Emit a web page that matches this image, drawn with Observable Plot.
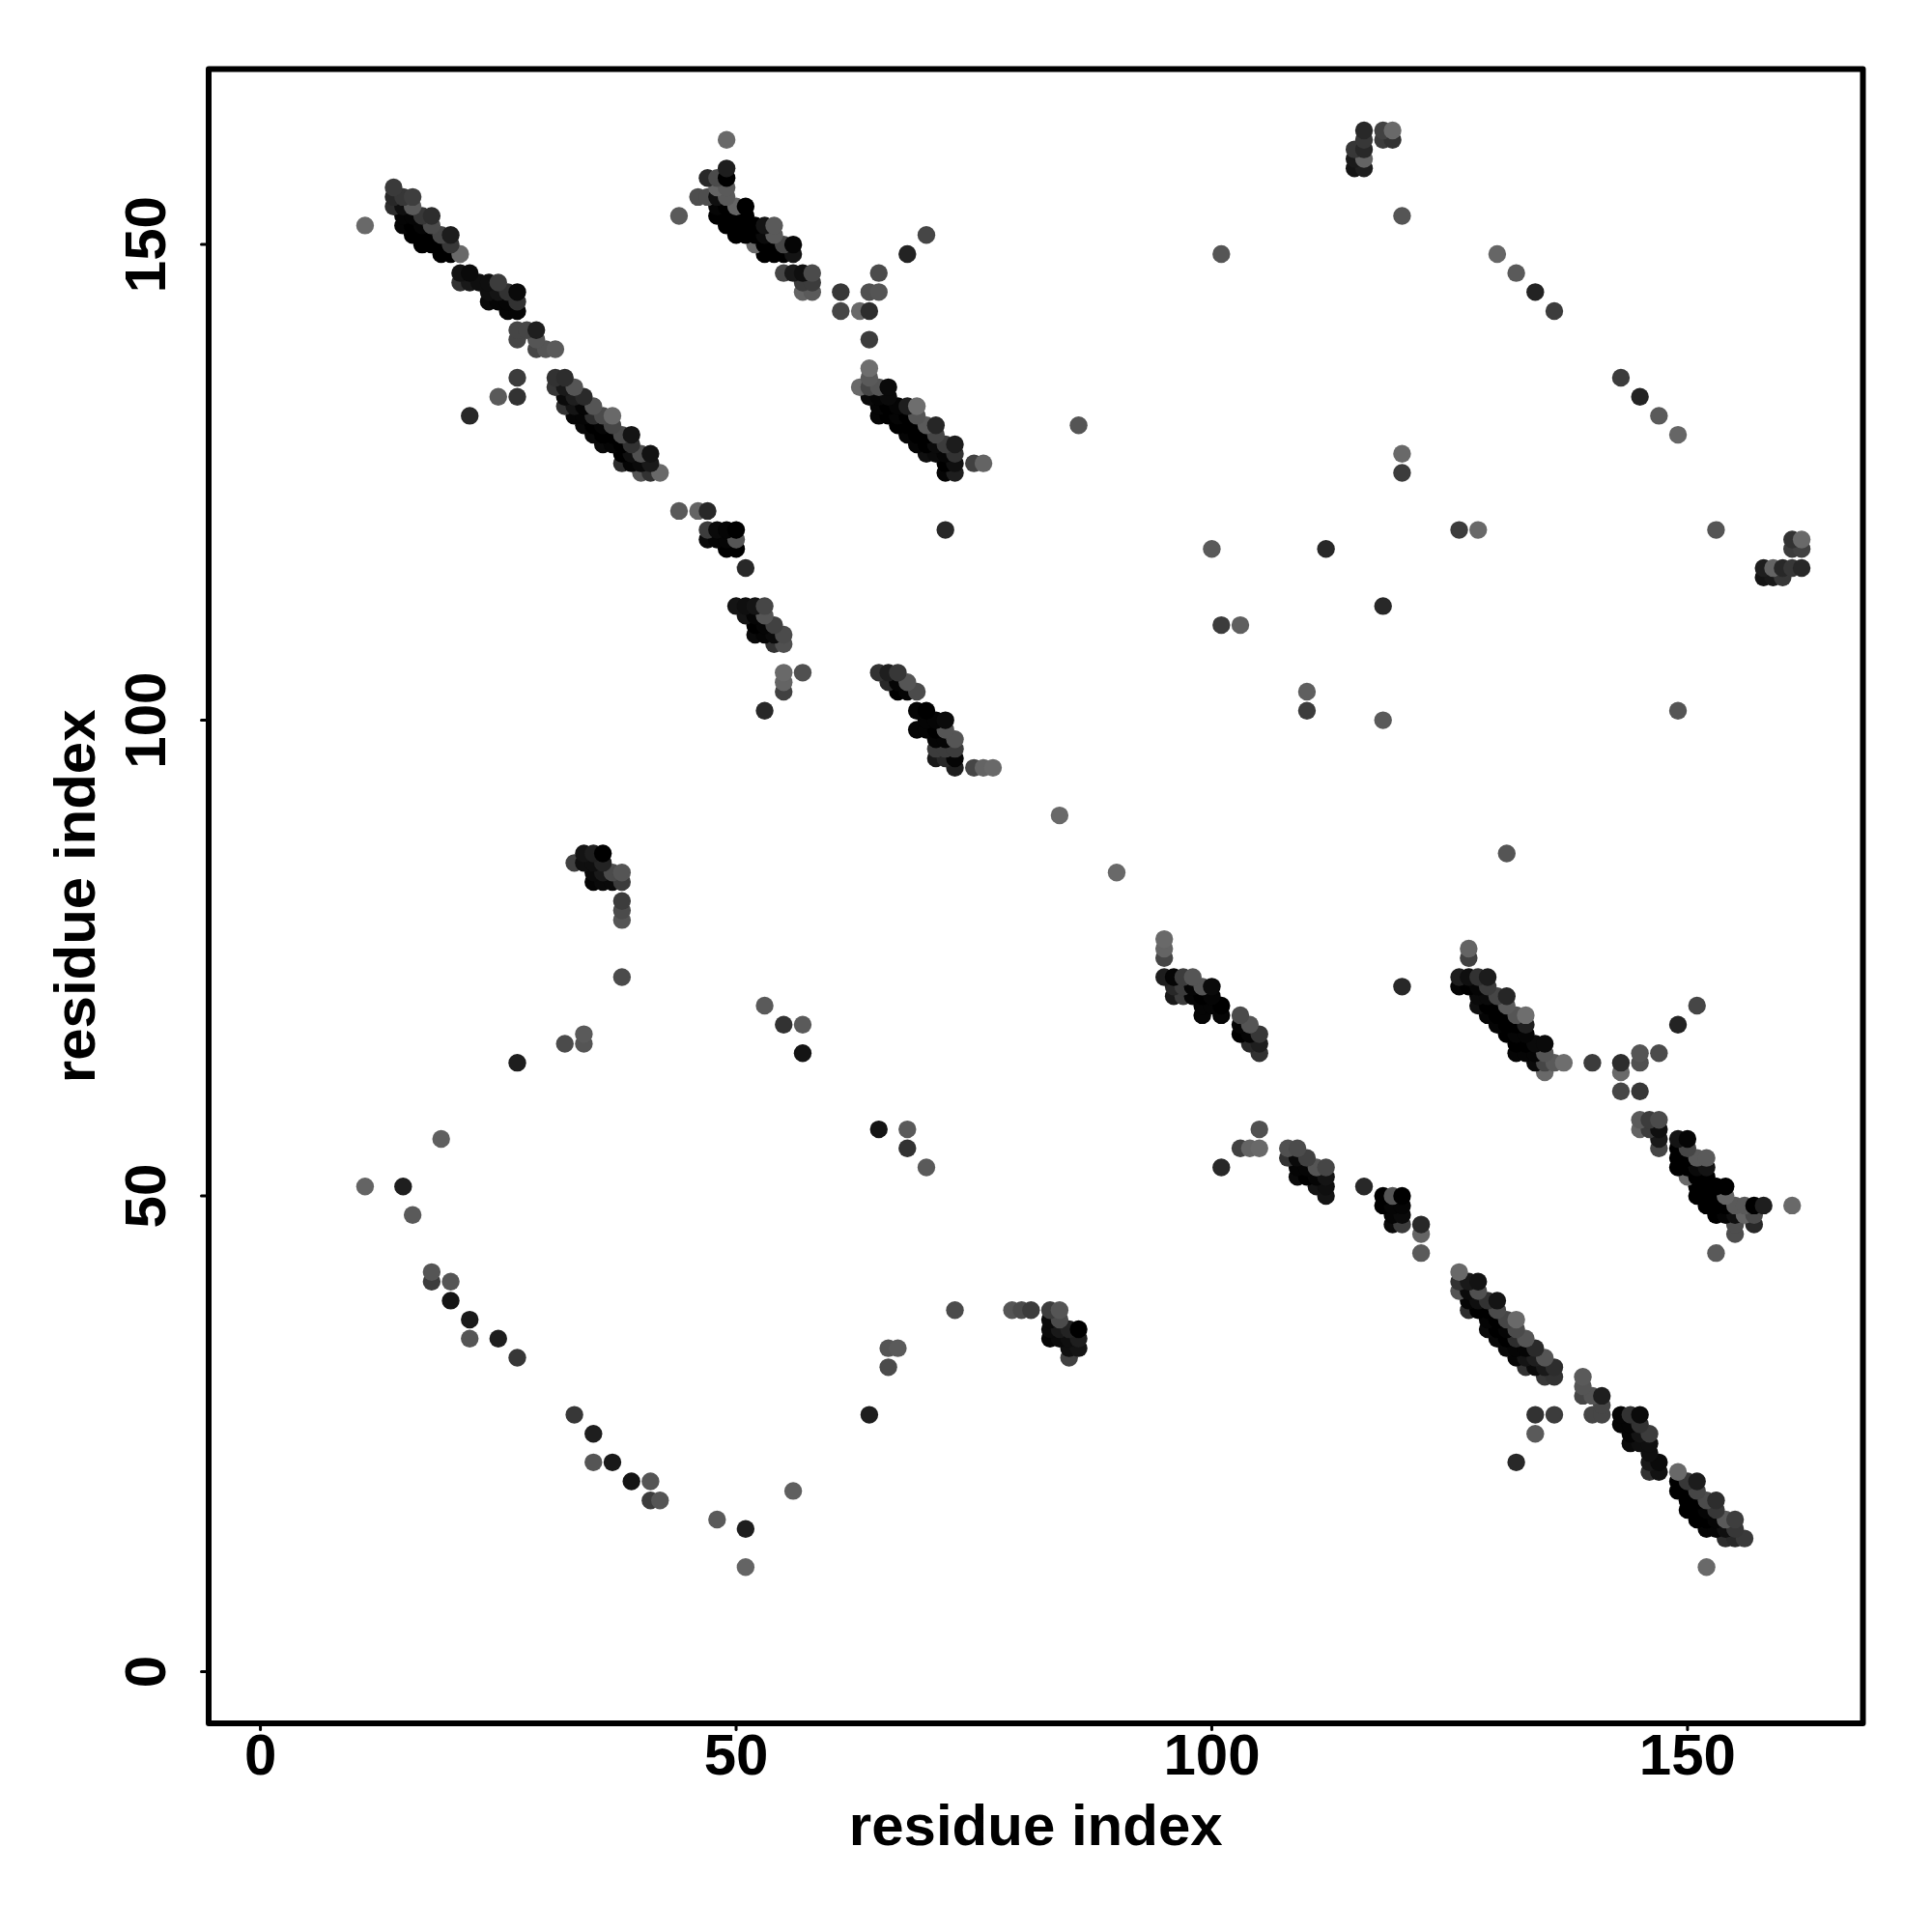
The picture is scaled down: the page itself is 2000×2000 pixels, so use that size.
<!DOCTYPE html>
<html><head><meta charset="utf-8">
<script src="https://cdn.jsdelivr.net/npm/d3@7"></script>
<script src="https://cdn.jsdelivr.net/npm/@observablehq/plot@0.6"></script>
<style>html,body{margin:0;padding:0;background:#fff}svg{display:block}</style>
</head><body><div id="chart"></div>
<script>
// Contacts above the diagonal as [residue i, residue j, grey level]; the map is symmetric.
const strandA1=[[14,156,58],[14,155,40],[15,155,55],[16,155,62],[14,154,45],[15,154,15],[16,154,90],[15,153,5],[16,153,5],[17,153,55],[18,153,45],[15,152,5],[16,152,0],[17,152,5],[18,152,75],[16,151,0],[17,151,0],[18,151,0],[19,151,70],[20,151,28],[17,150,0],[18,150,0],[19,150,0],[20,150,55],[19,149,0],[20,149,0],[21,149,105]];
const strandA2=[[21,147,18],[22,147,10],[21,146,50],[22,146,25],[23,146,15],[24,146,15],[25,146,60],[24,145,15],[25,145,20],[26,145,50],[27,145,10],[24,144,10],[25,144,5],[26,144,5],[27,144,50],[26,143,5],[27,143,5]];
const strandA3=[[27,141,70],[28,141,70],[29,141,30],[27,140,70],[29,140,85],[29,139,70],[30,139,85],[31,139,90]];
const strandA4=[[31,136,50],[32,136,45],[31,135,55],[32,135,25],[33,135,85],[32,134,10],[33,134,30],[34,134,42],[32,133,50],[33,133,20],[34,133,5],[35,133,85],[33,132,5],[34,132,5],[35,132,45],[36,132,75],[37,132,105],[34,131,8],[35,131,0],[36,131,5],[37,131,70],[35,130,8],[36,130,0],[37,130,0],[38,130,75],[39,130,20],[36,129,10],[37,129,5],[38,129,0],[39,129,50],[38,128,0],[39,128,15],[40,128,80],[41,128,18],[38,127,45],[39,127,5],[40,127,10],[41,127,25],[40,126,85],[41,126,50],[42,126,105]];
const strandB1=[[49,161,105],[49,158,30],[47,157,40],[48,157,75],[49,157,0],[48,156,100],[49,156,90],[46,155,78],[47,155,78],[48,155,15],[49,155,90],[44,153,90],[48,154,5],[49,154,0],[50,154,100],[51,154,0],[48,153,0],[49,153,0],[50,153,0],[51,153,0],[49,152,0],[50,152,0],[51,152,0],[52,152,0],[53,152,20],[54,152,90],[50,151,0],[51,151,0],[52,151,0],[53,151,10],[54,151,90],[52,150,105],[53,150,0],[54,150,0],[55,150,70],[56,150,5],[53,149,0],[54,149,0],[55,149,0],[56,149,20]];
const strandB2=[[55,147,70],[56,147,25],[57,147,15],[58,147,75],[57,146,60],[58,146,60],[57,145,100],[58,145,90]];
const strandB3=[[64,137,110],[64,136,90],[63,135,105],[64,135,70],[65,135,85],[66,135,10],[64,134,10],[65,134,5],[66,134,10],[65,133,5],[66,133,0],[67,133,5],[68,133,30],[69,133,110],[65,132,5],[66,132,0],[67,132,5],[68,132,0],[69,132,85],[67,131,0],[68,131,0],[69,131,0],[70,131,90],[71,131,38],[68,130,5],[69,130,0],[70,130,0],[71,130,70],[69,129,5],[70,129,0],[71,129,10],[72,129,60],[73,129,28],[70,128,15],[71,128,10],[72,128,5],[73,128,50],[72,127,0],[73,127,15],[75,127,65],[76,127,100],[72,126,5],[73,126,30]];
const strandC=[[44,122,90],[46,122,100],[47,122,40],[47,120,60],[48,120,10],[49,120,5],[50,120,0],[47,119,10],[48,119,5],[49,119,5],[50,119,85],[49,118,0],[50,118,0],[51,116,40],[50,112,20],[51,112,15],[52,112,20],[53,112,70],[51,111,20],[52,111,5],[53,111,85],[52,110,0],[53,110,5],[54,110,65],[52,109,10],[53,109,5],[54,109,10],[55,109,75],[54,108,50],[55,108,80],[55,105,105],[57,105,80],[55,104,100],[55,103,65],[53,101,40]];
const strandD=[[65,105,50],[66,105,30],[67,105,55],[66,104,40],[67,104,5],[68,104,85],[67,103,0],[68,103,5],[69,103,75],[69,101,5],[70,101,0],[70,100,5],[71,100,5],[72,100,10],[69,99,5],[70,99,5],[71,99,0],[72,99,85],[71,98,5],[72,98,5],[73,98,85],[71,97,60],[72,97,60],[73,97,60],[71,96,25],[72,96,40],[73,96,5],[73,95,30],[75,95,70],[76,95,100],[77,95,105]];
const strandF=[[33,85,65],[34,86,20],[35,86,30],[36,86,0],[34,85,15],[35,85,15],[36,85,35],[35,84,10],[36,84,25],[37,84,75],[38,84,85],[35,83,5],[36,83,10],[37,83,10],[38,83,60],[38,81,60],[38,80,75],[38,79,85],[38,73,75]];
const cornerCluster=[[116,162,40],[116,161,55],[115,160,55],[116,160,40],[115,159,25],[116,159,100],[115,158,20],[116,158,30],[118,162,65],[119,162,105],[118,161,60],[119,161,50]];
const isolated=[[11,152,105],[27,136,60],[27,134,50],[25,134,90],[22,132,40],[61,145,55],[61,143,70],[63,143,105],[64,143,45],[64,145,80],[65,145,85],[65,147,75],[68,149,35],[70,151,70],[64,140,60],[72,120,40],[84,90,105],[86,131,85],[101,149,85],[120,153,85],[130,149,102],[132,147,90],[134,145,35],[136,143,60],[120,128,105],[120,126,60],[100,118,90],[112,118,40],[101,110,60],[103,110,95],[53,70,90],[55,68,50],[57,68,90],[57,65,20],[27,64,30],[32,66,75],[34,66,85],[34,67,90],[11,51,100],[15,51,30],[16,48,90],[18,42,85],[18,41,60],[20,41,85],[20,39,20],[22,37,25],[22,35,85],[25,35,30],[27,33,55],[19,56,95]];
const tickValues=[0,50,100,150];
const axisTitle="residue index";
const upper=[...strandA1,...strandA2,...strandA3,...strandA4,...strandB1,...strandB2,...strandB3,...strandC,...strandD,...strandF,...cornerCluster,...isolated];
const contacts=d3.sort(upper.flatMap(([i,j,g])=>[{x:i,y:j,g},{x:j,y:i,g}]),d=>d.y,d=>d.x);
const chart=Plot.plot({
  width:2000,height:2000,
  marginLeft:215.5,marginRight:72,marginTop:71,marginBottom:216.4,
  style:{fontFamily:"Liberation Sans",fontWeight:"bold",background:"white",color:"black",overflow:"visible"},
  x:{domain:[-5.44,168.44]},
  y:{domain:[-5.44,168.44]},
  color:{type:"linear",domain:[0,255],range:["#000","#fff"],legend:false},
  marks:[
    Plot.dot(contacts,{x:"x",y:"y",fill:"g",r:9.2,stroke:"none"}),
    Plot.frame({stroke:"black",strokeWidth:6,strokeLinejoin:"round"}),
    Plot.axisX({ticks:tickValues,tickSize:7,tickPadding:3,strokeWidth:3,strokeLinecap:"round",fontSize:60,label:axisTitle,labelAnchor:"center",labelArrow:"none",labelOffset:126,tickFormat:d=>d}),
    Plot.axisY({ticks:tickValues,tickSize:7,tickPadding:38,strokeWidth:3,strokeLinecap:"round",fontSize:60,tickRotate:-90,textAnchor:"middle",lineAnchor:"bottom",label:axisTitle,labelAnchor:"center",labelArrow:"none",labelOffset:161,tickFormat:d=>d})
  ]
});
document.getElementById("chart").appendChild(chart);
</script>
</body></html>
